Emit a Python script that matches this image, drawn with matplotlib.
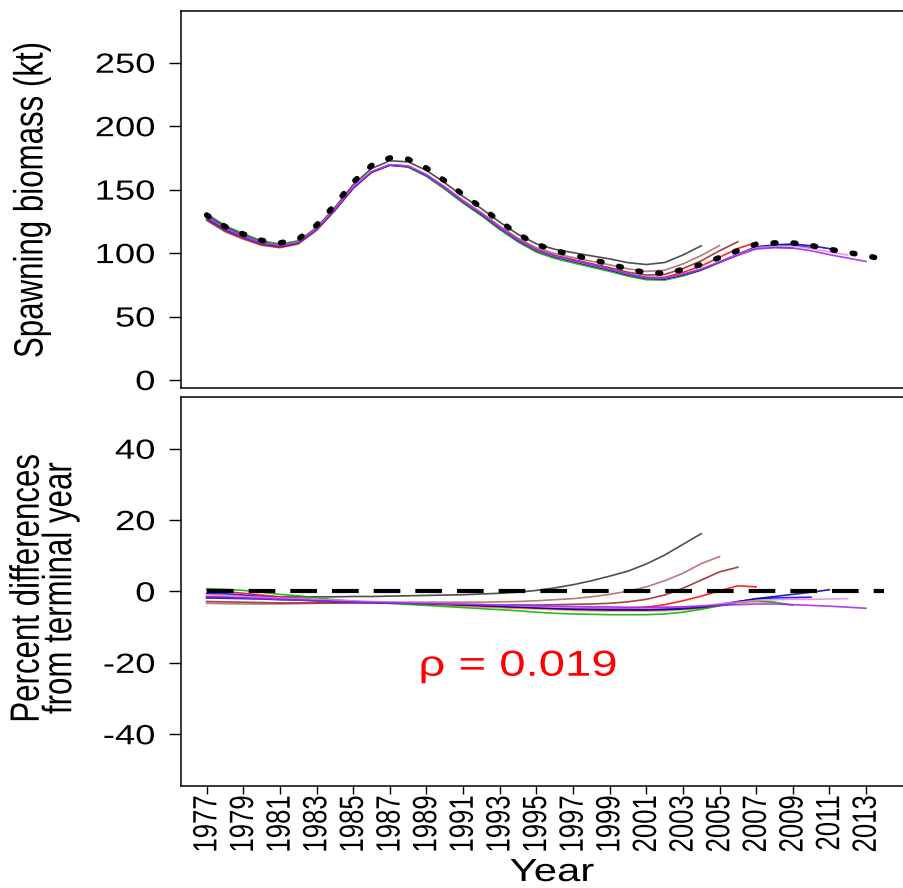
import numpy as np
import matplotlib
matplotlib.use("Agg")
import matplotlib.pyplot as plt
from matplotlib.patheffects import AbstractPathEffect
from matplotlib.transforms import Affine2D

plt.rcParams['font.family'] = ['Liberation Sans', 'DejaVu Sans']

# terminal-year run (2014)
years = list(range(1977, 2015))
terminal = [130, 121, 115, 110, 108, 111, 122, 138, 156, 169,
            175, 174, 167, 157, 146, 136, 125, 115, 107, 102,
            98.5, 95, 91.5, 87.5, 84.5, 84, 87, 91, 96.5, 102,
            107, 108, 108, 106, 103, 100.5, 98, 95]

# percent difference of each peel from terminal, 1977 .. end year
peel_end = [2004, 2005, 2006, 2007, 2008, 2009, 2010, 2011, 2012, 2013]
peel_col = ['#303030', '#b06060', '#8b2525', '#ff0000', '#ff9a30',
            '#00b000', '#0000ff', '#00008b', '#ee82ee', '#a020f0']
pct = {
    2004: [-1.6, -1.6, -1.6, -1.6, -1.6, -1.5, -1.5, -1.5,
           -1.4, -1.4, -1.3, -1.2, -1.1, -1.0, -0.9, -0.7, -0.5, -0.2,
           0.3, 1.0, 1.9, 3.0, 4.3, 5.7, 7.7, 10.2, 13.2, 16.2],
    2005: [-3.3, -3.4, -3.5, -3.5, -3.5, -3.4, -3.3, -3.2,
           -3.1, -3.0, -3.0, -3.0, -3.0, -3.0, -3.0, -3.0, -2.9, -2.8,
           -2.6, -2.3, -2.0, -1.5, -0.8, 0.1, 1.3, 3.0, 5.1, 7.8,
           9.8],
    2006: [-2.8, -2.9, -3.0, -3.1, -3.2, -3.2, -3.2, -3.2,
           -3.2, -3.2, -3.3, -3.3, -3.4, -3.5, -3.6, -3.7, -3.8, -3.8,
           -3.8, -3.7, -3.6, -3.5, -3.3, -2.9, -2.2, -1.0, 0.9, 3.2,
           5.5, 6.8],
    2007: [0.3, 0.0, -0.5, -1.0, -1.5, -1.9, -2.3, -2.6,
           -2.8, -3.0, -3.2, -3.4, -3.6, -3.8, -4.0, -4.2, -4.4, -4.6,
           -4.7, -4.8, -4.8, -4.8, -4.8, -4.7, -4.4, -3.7, -2.6, -1.3,
           0.2, 1.6, 1.3],
    2008: [-0.8, -1.0, -1.3, -1.6, -1.9, -2.2, -2.5, -2.7,
           -2.9, -3.1, -3.3, -3.5, -3.7, -3.9, -4.1, -4.3, -4.5, -4.7,
           -4.9, -5.1, -5.3, -5.4, -5.5, -5.5, -5.5, -5.4, -5.1, -4.7,
           -4.0, -3.3, -2.9, -3.0],
    2009: [0.8, 0.6, 0.3, -0.2, -0.8, -1.2, -1.8, -2.3,
           -2.7, -3.0, -3.3, -3.6, -3.9, -4.2, -4.5, -4.8, -5.1, -5.4,
           -5.8, -6.1, -6.3, -6.4, -6.5, -6.5, -6.5, -6.3, -5.8, -5.0,
           -4.0, -3.0, -2.6, -3.0, -3.8],
    2010: [-0.5, -0.6, -1.0, -1.4, -1.8, -2.1, -2.4, -2.6,
           -2.8, -3.0, -3.1, -3.2, -3.3, -3.5, -3.7, -3.9, -4.1, -4.3,
           -4.5, -4.7, -4.8, -4.9, -5.0, -5.0, -5.0, -4.9, -4.6, -4.2,
           -3.6, -2.8, -2.1, -1.8, -1.7, -1.6],
    2011: [-1.8, -1.9, -2.0, -2.1, -2.3, -2.4, -2.6, -2.8,
           -3.0, -3.1, -3.2, -3.3, -3.4, -3.6, -3.8, -4.0, -4.2, -4.4,
           -4.6, -4.8, -5.0, -5.1, -5.2, -5.2, -5.2, -5.1, -4.9, -4.5,
           -3.8, -2.9, -2.0, -1.4, -0.8, -0.2, 0.5],
    2012: [-1.0, -1.2, -1.4, -1.6, -1.8, -2.0, -2.2, -2.4,
           -2.6, -2.8, -3.0, -3.1, -3.2, -3.4, -3.5, -3.6, -3.8, -4.0,
           -4.2, -4.4, -4.5, -4.6, -4.6, -4.6, -4.6, -4.5, -4.3, -4.0,
           -3.5, -3.0, -2.5, -2.3, -2.2, -2.2, -2.1, -2.0],
    2013: [-1.5, -1.6, -1.8, -2.0, -2.2, -2.4, -2.6, -2.8,
           -3.0, -3.1, -3.2, -3.3, -3.4, -3.5, -3.6, -3.7, -3.8, -3.9,
           -4.0, -4.1, -4.2, -4.3, -4.3, -4.4, -4.4, -4.4, -4.3, -4.1,
           -3.9, -3.7, -3.5, -3.5, -3.7, -3.9, -4.1, -4.4, -4.7],
}
rho_text = "\u03c1 = 0.019"

W = 1.31  # the original picture is stretched sideways; widen glyphs to match


class Widen(AbstractPathEffect):
    # scale a text path in its own coords (sx along the text, sy across it)
    def __init__(self, sx=1.0, sy=1.0, anchor='center'):
        super().__init__()
        self.sx, self.sy, self.anchor = sx, sy, anchor

    def draw_path(self, renderer, gc, tpath, affine, rgbFace=None):
        ext = tpath.get_extents()
        if self.anchor == 'right':
            cx = ext.x1
        else:
            cx = (ext.x0 + ext.x1) / 2
        cy = (ext.y0 + ext.y1) / 2
        st = Affine2D().translate(-cx, -cy).scale(self.sx, self.sy).translate(cx, cy)
        renderer.draw_path(gc, tpath, st + affine, rgbFace)


fig = plt.figure(figsize=(9.04, 8.88), dpi=100)
ax1 = fig.add_axes([181 / 904, 1 - 388 / 888, 729 / 904, 377.3 / 888])
ax2 = fig.add_axes([181 / 904, 1 - 786 / 888, 729 / 904, 389 / 888])

term = np.array(terminal)
for yr, col in zip(peel_end, peel_col):
    d = np.array(pct[yr])
    n = len(d)
    bio = term[:n] * (1 + d / 100)
    ax1.plot(years[:n], bio, color=col, lw=1.2, alpha=0.85)
    ax2.plot(years[:n], d, color=col, lw=1.2, alpha=0.85)

ax1.plot(years, terminal, color='black', lw=4.0, ls=(0, (0.5, 3.1)),
         dash_capstyle='round')
ax2.plot(years, np.zeros(len(years)), color='black', lw=3.0, ls=(0, (6.4, 3.6)))

ax2.text(1994, -23.6, rho_text, color='red', fontsize=26, ha='center', va='baseline',
         path_effects=[Widen(sx=W)])

for ax in (ax1, ax2):
    ax.set_xlim(1975.6, 2015.4)
    for s in ax.spines.values():
        s.set_linewidth(1.1)
    ax.tick_params(axis='y', labelsize=20, length=8.6, width=1, direction='out', pad=10)

ax1.set_ylim(-6.3, 291)
ax1.set_yticks([0, 50, 100, 150, 200, 250])
ax1.set_xticks([])

ax2.set_ylim(-54.5, 54.5)
ax2.set_yticks([-40, -20, 0, 20, 40])
ax2.set_yticklabels(['-40', '-20', '0', '20', '40'])
ax2.set_xticks(range(1977, 2015, 2))
ax2.tick_params(axis='x', labelsize=18.5, length=5.5, width=1, rotation=90, pad=1)

for ax in (ax1, ax2):
    for lbl in ax.get_yticklabels():
        lbl.set_path_effects([Widen(sx=W, anchor='right')])
for lbl in ax2.get_xticklabels():
    lbl.set_path_effects([Widen(sy=W)])

fig.text(32 / 904, 1 - 200 / 888, "Spawning biomass (kt)", fontsize=22.5, rotation=90,
         ha='center', va='center', path_effects=[Widen(sy=W)])
fig.text(44 / 904, 1 - 588 / 888, "Percent differences\nfrom terminal year", fontsize=22.5,
         rotation=90, ha='center', va='center', linespacing=1.15, multialignment='center',
         path_effects=[Widen(sy=W)])
fig.text(552 / 904, 0.0, "Year", fontsize=23, ha='center', va='bottom',
         path_effects=[Widen(sx=W)])

fig.savefig("out.png", dpi=100)
